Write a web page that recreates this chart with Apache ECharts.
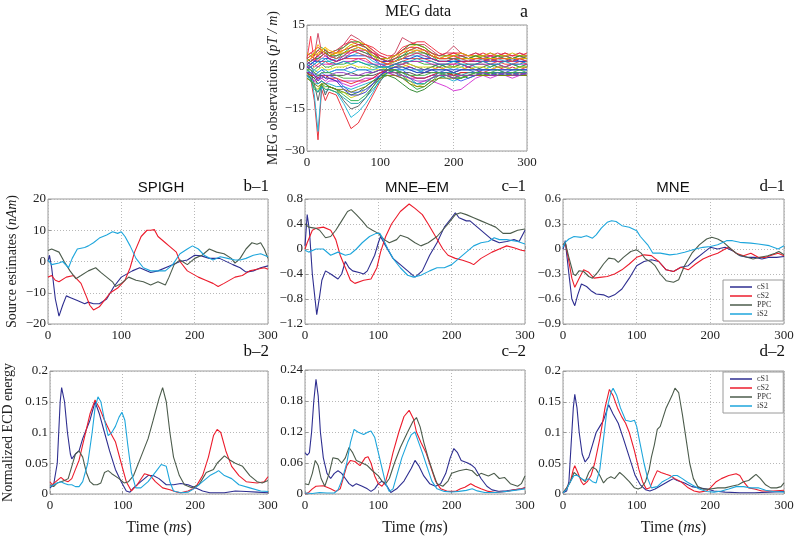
<!DOCTYPE html>
<html><head><meta charset="utf-8">
<script src="https://cdn.jsdelivr.net/npm/echarts@6/dist/echarts.min.js"></script>
<style>html,body{margin:0;padding:0;background:#fff}#c{width:800px;height:542px}</style>
</head><body><div id="c"></div>
<script>
// ---------------- DATA ----------------
const SOURCES = ['cS1', 'cS2', 'PPC', 'iS2'];
const TIME_TICKS = [0, 100, 200, 300];

// MEG sensor traces (pT/m), sampled at MEG_T
const MEG_T = [0,5,10,15,20,25,30,40,50,60,70,80,90,100,110,120,130,140,150,160,170,180,190,200,210,220,230,240,250,260,270,280,290,300];
const meg01 = [-2,-4,-12,-26,-8,-12,-9,-10,-16,-22,-20,-15,-10,-5,-1,0,1,0,-1,-2,-1,0,-1,-2,-1,0,-1,-2,-1,0,-1,0,-1,0];
const meg02 = [-1,-3,-10,-23,-7,-9,-8,-9,-13,-18,-16,-13,-9,-4,-1,1,0,-1,-2,-1,0,1,0,-1,0,1,0,-1,0,1,0,-1,0,1];
const meg03 = [-1,-2,-6,-12,-6,-10,-7,-8,-12,-15,-14,-11,-7,-3,0,1,2,1,0,-1,0,1,0,0,1,0,-1,0,1,0,0,1,0,0];
const meg04 = [-3,-4,-5,-6,-5,-6,-5,-5,-6,-7,-6,-5,-4,-3,-2,-3,-4,-5,-6,-5,-5,-6,-7,-8.5,-8,-6,-4,-3,-4,-3,-3,-4,-3,-3];
const meg05 = [-2,-3,-4,-6,-5,-6,-7,-8,-9,-10,-9,-7,-5,-3,-3,-4,-6,-8,-9,-8,-6,-4,-3,-2,-3,-4,-3,-3,-2,-3,-2,-3,-2,-3];
const meg06 = [3,11,2,5,6,5,4,5,7,10,9,8,6,3,2,4,7,8,8,7,5,3,4,5,4,3,4,3,4,3,4,3,4,3];
const meg07 = [2,3,4,12,5,6,5,5,8,11.5,10,8,6,4,3,5,10.5,9,8,8,6,4,5,7.5,5,4,5,4,5,4,5,4,5,4];
const meg08 = [2,3,4,5,6,7,5,4,6,8,9,8,5,3,2,3,5,7,8,7,5,3,3,4,3,3,3,4,3,3,4,3,3,4];
const meg09 = [1,2,3,4,5,6,4,3,5,7,8,7,4,2,1,2,4,6,7,6,4,2,2,3,2,2,3,3,2,3,3,2,3,3];
const meg10 = [0,1,2,3,4,5,3,2,4,6,7,6,3,1,1,2,3,5,6,5,3,2,2,2,2,2,2,2,2,2,2,2,2,2];
const meg11 = [2,3,2,4,3,4,3,4,5,5,6,5,3,2,2,3,4,5,6,5,4,3,3,3,4,3,2,3,4,3,4,3,3,4];
const meg12 = [1,2,1,2,3,3,2,3,4,4,5,4,2,1,1,2,3,4,4,4,3,2,2,2,3,2,2,3,2,3,2,2,3,2];
const meg13 = [0,1,0,1,2,2,1,2,3,3,3,3,1,0,1,1,2,3,3,3,2,1,1,1,2,1,1,2,1,2,1,1,2,1];
const meg14 = [-1,0,-1,0,1,0,0,1,1,2,2,1,0,0,0,1,1,2,2,1,1,0,1,0,1,0,1,1,0,1,0,1,0,1];
const meg15 = [-1,-1,-2,-1,0,-1,-1,0,0,1,0,0,-1,-1,0,0,0,1,0,0,0,-1,0,0,0,-1,0,0,-1,0,0,-1,0,0];
const meg16 = [-2,-2,-3,-2,-1,-2,-2,-1,-1,0,-1,-1,-2,-1,-1,-1,-1,0,-1,-1,-1,-2,-1,-1,-1,-1,-2,-1,-1,-1,-2,-1,-1,-1];
const meg17 = [-2,-3,-4,-3,-3,-4,-3,-3,-3,-2,-3,-3,-3,-2,-1,-2,-2,-2,-3,-2,-2,-2,-2,-3,-2,-2,-2,-2,-2,-2,-2,-2,-2,-2];
const meg18 = [-3,-4,-5,-4,-4,-5,-4,-5,-5,-5,-5,-4,-4,-2,-2,-3,-3,-4,-4,-4,-3,-3,-3,-3,-3,-3,-2,-3,-3,-2,-3,-3,-2,-3];
const meg19 = [-3,-4,-6,-6,-5,-6,-6,-7,-7,-8,-7,-6,-5,-3,-2,-2,-4,-5,-6,-6,-4,-3,-4,-5,-4,-3,-3,-2,-3,-3,-2,-3,-3,-2];
const meg20 = [-4,-5,-7,-8,-6,-8,-8,-9,-9,-11,-10,-8,-6,-3,-2,-2,-3,-5,-7,-6,-4,-3,-3,-4,-3,-3,-3,-3,-3,-3,-3,-3,-3,-3];
const meg21 = [-2,-4,-8,-9,-6,-7,-7,-8,-10,-12,-12,-10,-7,-4,-2,-1,-3,-6,-8,-7,-5,-3,-2,-3,-4,-3,-2,-3,-2,-3,-3,-2,-3,-3];
const meg22 = [1,0,-2,-4,-2,-3,-3,-4,-7,-9,-9,-8,-6,-3,-1,0,-1,-3,-4,-4,-3,-2,-3,-4,-5,-4,-3,-2,-3,-2,-3,-2,-3,-2];
const meg23 = [4,5,6,7,6,5,4,5,6,7,8,8,7,5,4,4,6,8,9,9,7,5,4,5,5,4,4,5,4,4,5,4,4,5];
const meg24 = [3,4,5,6,7,6,5,6,7,9,9,7,5,3,3,4,6,8,8,7,5,4,4,4,4,3,4,4,3,4,4,3,4,4];
const meg25 = [4,5,4,6,5,6,5,6,8,9,8,7,5,4,3,4,6,7,7,6,5,4,5,5,4,4,5,4,4,5,4,4,5,4];
const meg26 = [5,4,5,4,6,5,4,5,6,8,7,6,4,3,3,4,5,6,6,5,4,3,4,4,5,4,4,4,5,4,4,5,4,4];
const meg27 = [3,2,3,3,4,5,4,4,5,6,6,5,4,3,2,3,4,5,5,5,4,3,3,3,3,3,4,3,3,4,3,3,4,3];
const meg28 = [2,1,2,2,2,3,3,2,3,4,4,4,3,2,2,2,3,3,4,3,3,2,2,2,2,2,2,2,3,2,2,3,2,2];
const meg29 = [0,0,1,0,1,1,1,1,2,2,3,2,1,1,0,1,1,2,2,2,1,1,1,1,1,0,1,1,1,1,0,1,1,1];
const meg30 = [-1,-2,-1,-2,-1,-1,-2,-1,-1,-2,-1,-1,-1,0,0,-1,-1,-1,-1,-2,-1,-1,-1,-2,-1,-1,-1,-1,-1,-1,-1,-1,-1,-1];
const meg31 = [-2,-3,-3,-4,-3,-3,-4,-4,-5,-6,-5,-5,-4,-2,-1,-1,-2,-3,-4,-4,-3,-2,-2,-3,-2,-2,-2,-2,-2,-2,-2,-2,-2,-2];
const meg32 = [-4,-5,-6,-7,-6,-6,-7,-8,-8,-9,-8,-7,-5,-4,-3,-3,-4,-6,-7,-7,-5,-4,-4,-4,-4,-3,-3,-3,-3,-3,-3,-3,-3,-3];
const meg33 = [-3,-5,-7,-9,-7,-8,-8,-9,-11,-13,-13,-11,-8,-5,-2,-1,-2,-4,-6,-6,-4,-2,-2,-2,-3,-2,-2,-2,-2,-2,-2,-2,-2,-2];
const meg34 = [0,-1,-3,-5,-3,-4,-4,-5,-8,-10,-10,-9,-6,-3,-1,0,0,-1,-2,-2,-1,-1,-1,-2,-1,-1,-1,-1,-1,-1,-1,-1,-1,-1];
const meg35 = [1,2,3,4,5,4,3,2,3,5,6,6,5,3,2,2,3,4,5,4,3,2,2,3,2,2,2,2,3,2,2,2,3,2];
const meg36 = [-1,-1,-2,-3,-2,-2,-2,-3,-4,-4,-4,-3,-2,-1,-1,-1,-2,-3,-3,-3,-2,-2,-3,-4,-4,-3,-2,-2,-2,-1,-2,-2,-1,-2];
const meg37 = [2,3,5,8,6,7,6,5,5,6,7,6,4,2,1,2,3,5,6,6,4,3,3,4,3,3,3,3,3,3,3,3,3,3];
const meg38 = [-2,-2,-3,-5,-4,-3,-3,-2,-2,-3,-3,-2,-2,-1,-2,-2,-3,-4,-5,-5,-4,-3,-3,-4,-3,-3,-3,-2,-3,-3,-2,-3,-3,-2];
const meg39 = [1,0,1,2,1,2,2,1,2,1,2,1,1,0,0,1,2,2,3,2,2,1,1,2,1,1,1,2,1,1,2,1,1,2];
const meg40 = [3,4,3,2,4,5,4,3,4,6,5,4,3,2,1,3,5,6,7,6,4,3,3,4,3,2,3,3,2,3,3,2,3,2];

// b-1 SPIGH source estimates (nAm): [time, value]
const b1_cS1 = [[0,0],[2,2],[5,-2],[10,-12],[15,-17.5],[20,-14],[25,-11],[30,-11.5],[40,-12.5],[50,-13.5],[55,-13],[62,-13.5],[70,-13.5],[80,-12],[90,-8],[100,-5],[115,-3],[125,-2],[140,-3.5],[150,-3],[165,-1.5],[180,0],[190,0.5],[200,2],[209,1.8],[220,1],[234,1],[252,-1],[262,-2],[270,-3.4],[280,-3],[290,-2],[300,-1.4]];
const b1_cS2 = [[0,-5],[5,-4.5],[10,-6],[15,-6.5],[25,-5],[35,-4.5],[45,-7],[52,-11],[57,-14],[62,-15.5],[70,-14.5],[75,-13],[85,-10],[95,-8.5],[105,-6],[112,-2],[118,3],[127,8],[135,10],[140,10],[145,10.2],[150,8],[160,6],[165,5],[175,3],[180,0],[190,-3],[205,-5],[215,-6],[225,-7],[232,-8],[240,-7],[255,-5],[265,-4.5],[275,-3],[285,-2.5],[295,-2],[300,-2.5]];
const b1_PPC = [[0,3.5],[5,4],[15,3],[22,0],[30,-3],[38,-5.5],[45,-4.5],[55,-3],[65,-2],[72,-3.5],[80,-5],[88,-6.5],[92,-8],[100,-7],[110,-5],[120,-6],[130,-6.5],[140,-7.5],[150,-6.5],[160,-7.5],[165,-5],[172,-1],[180,0.5],[190,-1],[200,1],[210,2],[220,4],[230,3],[240,2.5],[250,1],[255,-0.5],[262,1],[270,4],[278,6],[285,5.5],[290,6],[295,4],[300,1]];
const b1_iS2 = [[0,0.5],[5,-1],[15,-0.5],[20,0],[28,-2],[33,1],[40,4],[50,4.5],[55,5],[62,6],[70,7.5],[80,8.5],[88,9.5],[95,9],[100,9.5],[105,8],[112,5],[120,1],[130,-2],[140,-3],[150,-3],[160,-3],[170,-1],[180,2.5],[190,4],[197,5],[205,4],[213,2],[225,0.5],[235,1.5],[245,1],[255,0.5],[262,0.5],[270,1],[280,2],[290,2.5],[300,1.5]];

// c-1 MNE-EM
const c1_cS1 = [[0,0.05],[3,0.55],[6,0.3],[10,-0.4],[16,-1.05],[20,-0.75],[23,-0.5],[28,-0.35],[35,-0.4],[45,-0.48],[50,-0.4],[55,-0.2],[60,-0.3],[65,-0.35],[75,-0.38],[80,-0.4],[85,-0.35],[95,-0.1],[100,0.1],[103,0.2],[110,0.05],[120,-0.15],[130,-0.25],[140,-0.35],[150,-0.45],[160,-0.35],[170,-0.1],[180,0.1],[190,0.35],[200,0.5],[205,0.58],[210,0.5],[220,0.45],[225,0.45],[235,0.35],[245,0.25],[255,0.15],[265,0.1],[275,0.12],[285,0.15],[292,0.12],[300,0.3]];
const c1_cS2 = [[0,0],[3,0.1],[10,0.3],[15,0.33],[25,0.35],[35,0.3],[42,0.15],[48,-0.1],[55,-0.3],[62,-0.5],[68,-0.55],[80,-0.5],[90,-0.48],[98,-0.3],[103,-0.05],[110,0.2],[118,0.4],[130,0.6],[142,0.72],[150,0.65],[160,0.55],[168,0.4],[178,0.2],[188,0],[195,-0.1],[205,-0.15],[215,-0.18],[225,-0.22],[230,-0.25],[240,-0.15],[255,-0.05],[265,0],[275,0.05],[285,0.02],[295,-0.02],[300,-0.03]];
const c1_PPC = [[0,0.4],[5,0.35],[15,0.33],[20,0.3],[28,0.18],[35,0.2],[42,0.3],[50,0.45],[58,0.6],[63,0.63],[70,0.55],[78,0.45],[85,0.35],[92,0.3],[100,0.25],[108,0.15],[115,0.1],[125,0.15],[130,0.22],[140,0.18],[150,0.1],[158,0.05],[168,0.1],[180,0.2],[195,0.4],[205,0.55],[212,0.58],[220,0.55],[230,0.5],[240,0.45],[250,0.4],[260,0.35],[270,0.25],[280,0.25],[290,0.3],[300,0.32]];
const c1_iS2 = [[0,-0.02],[5,-0.05],[15,0],[25,0],[35,-0.1],[45,-0.05],[55,-0.1],[62,-0.08],[70,0],[78,0.1],[88,0.2],[97,0.25],[102,0.25],[107,0.15],[113,0],[120,-0.15],[130,-0.3],[140,-0.42],[148,-0.45],[158,-0.42],[170,-0.35],[180,-0.3],[190,-0.3],[200,-0.25],[210,-0.15],[220,-0.05],[230,0.05],[240,0.1],[250,0.12],[258,0.18],[265,0.15],[275,0.15],[290,0.12],[300,0.08]];

// d-1 MNE
const d1_cS1 = [[0,0],[2,0.05],[3,0.1],[8,-0.3],[12,-0.6],[16,-0.68],[20,-0.55],[25,-0.42],[32,-0.45],[38,-0.5],[45,-0.54],[55,-0.55],[62,-0.58],[70,-0.55],[80,-0.48],[90,-0.35],[100,-0.2],[110,-0.15],[120,-0.13],[130,-0.15],[140,-0.25],[150,-0.27],[160,-0.22],[170,-0.2],[180,-0.12],[190,-0.05],[200,0.02],[210,0],[220,0.02],[230,-0.02],[240,-0.08],[250,-0.1],[260,-0.1],[270,-0.12],[280,-0.1],[290,-0.1],[300,-0.09]];
const d1_cS2 = [[0,0.05],[3,0.08],[7,-0.1],[12,-0.35],[16,-0.46],[22,-0.35],[28,-0.25],[35,-0.28],[42,-0.35],[50,-0.34],[60,-0.33],[70,-0.3],[80,-0.25],[90,-0.18],[100,-0.1],[110,-0.07],[120,-0.08],[130,-0.15],[140,-0.25],[150,-0.27],[160,-0.22],[170,-0.25],[180,-0.18],[190,-0.12],[200,-0.08],[210,-0.05],[220,0],[225,0.02],[235,-0.05],[245,-0.08],[255,-0.05],[265,-0.1],[275,-0.1],[285,-0.07],[292,-0.05],[300,-0.08]];
const d1_PPC = [[0,0.05],[3,0.08],[8,-0.1],[14,-0.3],[17,-0.32],[22,-0.26],[28,-0.27],[35,-0.33],[40,-0.35],[47,-0.28],[55,-0.18],[62,-0.11],[70,-0.12],[75,-0.16],[82,-0.1],[92,-0.03],[100,-0.01],[106,-0.05],[112,-0.12],[120,-0.16],[125,-0.2],[132,-0.3],[140,-0.38],[150,-0.4],[157,-0.37],[165,-0.2],[175,-0.05],[185,0.05],[195,0.12],[202,0.14],[210,0.12],[218,0.08],[228,0],[238,-0.07],[250,-0.1],[258,-0.12],[268,-0.1],[278,-0.08],[288,-0.05],[293,-0.03],[300,-0.07]];
const d1_iS2 = [[0,0.02],[3,0.08],[8,0.12],[15,0.15],[25,0.14],[32,0.16],[40,0.13],[45,0.17],[52,0.25],[60,0.32],[66,0.34],[72,0.33],[80,0.28],[90,0.26],[100,0.22],[105,0.15],[115,0.05],[122,-0.05],[132,-0.05],[145,-0.07],[155,-0.06],[165,-0.04],[180,0],[190,0.02],[200,0.03],[210,0.05],[222,0.1],[230,0.1],[240,0.08],[255,0.07],[265,0.06],[280,0.04],[292,0],[300,0.04]];

// b-2 SPIGH normalized ECD energy
const b2_cS1 = [[0,0.01],[5,0.015],[10,0.05],[14,0.15],[16,0.173],[20,0.15],[24,0.1],[28,0.065],[30,0.057],[35,0.065],[40,0.07],[45,0.09],[50,0.105],[55,0.12],[62,0.15],[68,0.13],[75,0.1],[82,0.07],[90,0.04],[98,0.02],[105,0.005],[110,0.003],[115,0.01],[125,0.02],[135,0.03],[142,0.03],[150,0.025],[160,0.015],[170,0.015],[180,0.017],[190,0.015],[200,0.01],[210,0.005],[220,0.002],[240,0.002],[255,0.005],[270,0.004],[285,0.003],[300,0.002]];
const b2_cS2 = [[0,0.02],[3,0.015],[8,0.02],[15,0.027],[20,0.022],[25,0.02],[30,0.025],[35,0.04],[40,0.055],[47,0.09],[55,0.13],[62,0.153],[68,0.14],[75,0.12],[83,0.1],[90,0.085],[98,0.05],[105,0.02],[112,0.005],[120,0.015],[130,0.033],[138,0.03],[145,0.02],[155,0.01],[165,0.007],[175,0.003],[180,0.002],[190,0.005],[200,0.01],[210,0.03],[218,0.06],[225,0.095],[230,0.105],[235,0.1],[242,0.07],[250,0.045],[260,0.03],[270,0.02],[285,0.018],[295,0.02],[300,0.028]];
const b2_PPC = [[0,0.015],[5,0.012],[10,0.018],[15,0.02],[20,0.022],[25,0.025],[30,0.045],[35,0.065],[40,0.07],[45,0.06],[50,0.035],[55,0.02],[60,0.015],[65,0.015],[70,0.018],[75,0.035],[80,0.038],[85,0.033],[95,0.025],[102,0.018],[108,0.02],[115,0.03],[125,0.06],[135,0.09],[142,0.12],[150,0.155],[155,0.173],[160,0.15],[165,0.1],[170,0.06],[178,0.03],[185,0.015],[195,0.01],[205,0.015],[210,0.025],[215,0.035],[225,0.04],[230,0.05],[240,0.062],[248,0.055],[255,0.05],[265,0.045],[275,0.03],[285,0.02],[292,0.018],[300,0.022]];
const b2_iS2 = [[0,0.012],[5,0.015],[10,0.018],[15,0.02],[20,0.017],[25,0.015],[30,0.015],[35,0.012],[40,0.012],[45,0.02],[52,0.05],[58,0.1],[62,0.14],[66,0.158],[70,0.15],[75,0.12],[80,0.095],[85,0.1],[90,0.11],[95,0.125],[99,0.133],[103,0.12],[107,0.08],[112,0.035],[118,0.01],[125,0.01],[135,0.02],[148,0.04],[153,0.048],[160,0.045],[165,0.02],[170,0.005],[180,0.002],[190,0.003],[200,0.01],[210,0.02],[220,0.03],[228,0.035],[232,0.038],[240,0.03],[250,0.025],[260,0.015],[275,0.01],[290,0.005],[300,0.004]];

// c-2 MNE-EM normalized ECD energy
const c2_cS1 = [[0,0.08],[3,0.075],[6,0.08],[9,0.12],[12,0.18],[15,0.222],[18,0.19],[21,0.12],[25,0.07],[30,0.04],[35,0.03],[40,0.04],[45,0.045],[50,0.04],[55,0.03],[60,0.02],[65,0.015],[70,0.02],[78,0.015],[85,0.01],[90,0.005],[95,0.01],[100,0.02],[105,0.025],[112,0.015],[117,0.003],[125,0.01],[135,0.025],[145,0.05],[150,0.065],[155,0.055],[162,0.035],[170,0.02],[178,0.015],[185,0.02],[192,0.04],[198,0.07],[203,0.088],[208,0.08],[213,0.065],[222,0.06],[228,0.055],[232,0.05],[240,0.03],[248,0.015],[255,0.008],[265,0.005],[275,0.006],[285,0.008],[295,0.01],[300,0.012]];
const c2_cS2 = [[0,0],[5,0.003],[10,0.01],[15,0.015],[25,0.016],[35,0.01],[42,0.005],[48,0.01],[52,0.03],[57,0.055],[62,0.065],[68,0.063],[75,0.055],[82,0.07],[86,0.072],[90,0.06],[95,0.035],[100,0.02],[105,0.015],[110,0.025],[115,0.05],[120,0.08],[128,0.12],[135,0.15],[142,0.162],[148,0.145],[152,0.12],[158,0.1],[165,0.08],[172,0.05],[178,0.025],[185,0.01],[195,0.005],[205,0.005],[212,0.01],[218,0.013],[226,0.02],[232,0.015],[240,0.01],[250,0.005],[260,0.003],[275,0.005],[285,0.008],[295,0.01],[300,0.012]];
const c2_PPC = [[0,0.02],[5,0.018],[10,0.04],[14,0.065],[18,0.055],[22,0.03],[27,0.015],[33,0.04],[38,0.07],[45,0.068],[50,0.06],[55,0.07],[60,0.09],[65,0.08],[70,0.065],[78,0.06],[85,0.055],[92,0.045],[100,0.035],[105,0.025],[110,0.02],[115,0.03],[122,0.06],[130,0.09],[140,0.12],[147,0.14],[152,0.148],[157,0.13],[162,0.1],[168,0.07],[175,0.04],[180,0.02],[188,0.015],[195,0.025],[200,0.04],[210,0.045],[220,0.048],[228,0.045],[235,0.035],[240,0.04],[250,0.035],[258,0.04],[265,0.03],[272,0.032],[280,0.02],[290,0.015],[295,0.02],[300,0.035]];
const c2_iS2 = [[0,0.002],[10,0.001],[20,0.003],[30,0.002],[40,0.002],[45,0.008],[50,0.025],[57,0.06],[62,0.1],[67,0.125],[72,0.12],[80,0.115],[86,0.12],[90,0.122],[95,0.11],[100,0.08],[105,0.05],[110,0.02],[115,0.005],[120,0.01],[126,0.04],[132,0.07],[140,0.1],[145,0.115],[150,0.12],[155,0.1],[160,0.08],[167,0.05],[173,0.025],[180,0.01],[190,0.005],[200,0.004],[210,0.005],[220,0.007],[228,0.01],[235,0.006],[245,0.003],[260,0.003],[275,0.005],[290,0.008],[300,0.01]];

// d-2 MNE normalized ECD energy
const d2_cS1 = [[0,0.002],[5,0.005],[8,0.02],[11,0.08],[14,0.14],[16,0.162],[19,0.14],[22,0.1],[26,0.065],[30,0.052],[35,0.06],[40,0.08],[45,0.1],[50,0.11],[55,0.12],[62,0.145],[68,0.13],[75,0.115],[82,0.09],[90,0.06],[98,0.03],[105,0.015],[112,0.007],[118,0.005],[125,0.008],[135,0.015],[145,0.022],[150,0.025],[155,0.022],[165,0.018],[175,0.012],[185,0.01],[195,0.008],[205,0.005],[220,0.003],[240,0.002],[260,0.002],[280,0.003],[300,0.004]];
const d2_cS2 = [[0,0.002],[5,0.01],[10,0.02],[14,0.04],[16,0.046],[20,0.035],[25,0.02],[28,0.015],[33,0.02],[38,0.03],[43,0.05],[50,0.09],[57,0.14],[63,0.17],[68,0.16],[74,0.14],[80,0.125],[85,0.115],[90,0.1],[97,0.07],[103,0.04],[108,0.02],[113,0.008],[118,0.01],[123,0.025],[128,0.038],[133,0.035],[140,0.032],[145,0.03],[152,0.025],[160,0.02],[170,0.01],[178,0.005],[185,0.003],[195,0.005],[200,0.01],[208,0.02],[215,0.025],[225,0.03],[235,0.033],[240,0.03],[245,0.02],[252,0.01],[260,0.008],[270,0.005],[285,0.005],[300,0.006]];
const d2_PPC = [[0,0.002],[5,0.01],[10,0.02],[15,0.035],[20,0.03],[25,0.025],[30,0.02],[35,0.035],[40,0.044],[45,0.04],[50,0.03],[55,0.018],[60,0.025],[65,0.028],[70,0.025],[77,0.035],[82,0.03],[90,0.02],[97,0.01],[102,0.008],[106,0.01],[112,0.02],[117,0.04],[120,0.06],[124,0.08],[128,0.105],[132,0.11],[136,0.125],[140,0.14],[148,0.16],[152,0.172],[157,0.165],[162,0.13],[167,0.09],[172,0.05],[177,0.025],[183,0.012],[190,0.008],[200,0.008],[210,0.01],[220,0.01],[230,0.013],[238,0.015],[245,0.02],[252,0.022],[258,0.028],[262,0.032],[268,0.025],[275,0.015],[282,0.01],[290,0.01],[296,0.012],[300,0.018]];
const d2_iS2 = [[0,0.002],[5,0.008],[10,0.02],[15,0.03],[20,0.03],[25,0.025],[30,0.022],[35,0.025],[40,0.02],[45,0.018],[50,0.04],[55,0.09],[60,0.14],[65,0.165],[68,0.172],[73,0.16],[78,0.14],[85,0.12],[92,0.118],[97,0.12],[100,0.11],[105,0.08],[110,0.05],[115,0.025],[120,0.01],[128,0.012],[135,0.02],[143,0.025],[150,0.03],[155,0.03],[162,0.025],[168,0.02],[175,0.015],[185,0.008],[195,0.004],[205,0.003],[215,0.005],[225,0.008],[235,0.012],[245,0.012],[255,0.01],[265,0.01],[275,0.006],[285,0.004],[300,0.003]];

// ---------------- LAYOUT / STYLE ----------------
const MEG_TRACES = [meg01,meg02,meg03,meg04,meg05,meg06,meg07,meg08,meg09,meg10,meg11,meg12,meg13,meg14,meg15,meg16,meg17,meg18,meg19,meg20,
  meg21,meg22,meg23,meg24,meg25,meg26,meg27,meg28,meg29,meg30,meg31,meg32,meg33,meg34,meg35,meg36,meg37,meg38,meg39,meg40];
const MEG_COLORS = ['#e8202a','#18b4d8','#555555','#d22ad2','#208020','#ff2a40','#c83c5a','#e8d400','#20b020','#2233dd',
  '#cc33cc','#22bbdd','#ee3333','#33aa33','#dddd00','#3344cc','#444444','#bb22bb','#11aacc','#cccc11',
  '#22aa44','#3355ee','#f02030','#30a030','#e02a50','#d0c000','#2a9a2a','#1040d0','#c020c0','#20b0e0',
  '#ee2020','#808000','#10a0a0','#3030c0','#dc1c6c','#40b040','#ffaa00','#9030c0','#00a0c0','#f04040'];
const SRC_COLORS = {cS1:'#2e2e90', cS2:'#ec1c2c', PPC:'#4c5c4c', iS2:'#1ea6dc'};
const SERIF = 'Liberation Serif';

function fmt(v){ const s = String(+(+v).toFixed(3)); return s.replace('-', '\u2212'); }

const panels = [
  {key:'a',  grid:{left:307,top:25,width:220,height:126}, y:[-30,15,15]},
  {key:'b1', grid:{left:48,top:199,width:220,height:125}, y:[-20,20,10], data:[b1_cS1,b1_cS2,b1_PPC,b1_iS2]},
  {key:'c1', grid:{left:305,top:199,width:220,height:125}, y:[-1.2,0.8,0.4], data:[c1_cS1,c1_cS2,c1_PPC,c1_iS2]},
  {key:'d1', grid:{left:563,top:199,width:221,height:125}, y:[-0.9,0.6,0.3], data:[d1_cS1,d1_cS2,d1_PPC,d1_iS2]},
  {key:'b2', grid:{left:48,top:371,width:220,height:123}, y:[0,0.2,0.05], data:[b2_cS1,b2_cS2,b2_PPC,b2_iS2], bottom:true},
  {key:'c2', grid:{left:305,top:370,width:220,height:124}, y:[0,0.24,0.06], data:[c2_cS1,c2_cS2,c2_PPC,c2_iS2], bottom:true},
  {key:'d2', grid:{left:563,top:371,width:221,height:123}, y:[0,0.2,0.05], data:[d2_cS1,d2_cS2,d2_PPC,d2_iS2], bottom:true}
];

const grids=[], xAxis=[], yAxis=[], series=[];
const labelStyle = {fontFamily:SERIF, fontSize:13, color:'#222'};
const splitStyle = {show:true, lineStyle:{color:'#b8b8b8', type:[1,2], width:1}};
panels.forEach((p,i)=>{
  grids.push(Object.assign({show:true, borderColor:'#9a9a9a', borderWidth:1, backgroundColor:'#fff'}, p.grid));
  const xa = {type:'value', gridIndex:i, min:0, max:300, interval:100,
    axisLine:{show:false}, axisTick:{show:true, inside:true, length:3, lineStyle:{color:'#9a9a9a'}},
    axisLabel:Object.assign({margin:5, formatter:fmt}, labelStyle), splitLine:splitStyle};
  if (p.bottom) {
    xa.name = 'Time ({i|ms})'; xa.nameLocation='middle'; xa.nameGap=26;
    xa.nameTextStyle = {fontFamily:SERIF, fontSize:16, color:'#222', rich:{i:{fontFamily:SERIF, fontStyle:'italic', fontSize:16, color:'#222'}}};
  }
  xAxis.push(xa);
  const ya = {type:'value', gridIndex:i, min:p.y[0], max:p.y[1], interval:p.y[2],
    axisLine:{show:false}, axisTick:{show:true, inside:true, length:3, lineStyle:{color:'#9a9a9a'}},
    axisLabel:Object.assign({margin:2, formatter:fmt}, labelStyle), splitLine:splitStyle};
  const nts = {fontFamily:SERIF, fontSize:14, color:'#222', rich:{i:{fontFamily:SERIF, fontStyle:'italic', fontSize:14, color:'#222'}}};
  if (p.key==='a') { ya.name='MEG observations ({i|pT / m})'; ya.nameLocation='middle'; ya.nameGap=24; ya.nameTextStyle=nts; }
  if (p.key==='b1') { ya.name='Source estimates ({i|nAm})'; ya.nameLocation='middle'; ya.nameGap=29; ya.nameTextStyle=nts; }
  if (p.key==='b2') { ya.name='Normalized ECD energy'; ya.nameLocation='middle'; ya.nameGap=35; ya.nameTextStyle=nts; }
  yAxis.push(ya);
  if (p.key==='a') {
    MEG_TRACES.forEach((tr,k)=>{
      series.push({type:'line', xAxisIndex:i, yAxisIndex:i, showSymbol:false, silent:true,
        data: tr.map((v,j)=>[MEG_T[j], v]), color:MEG_COLORS[k % MEG_COLORS.length],
        lineStyle:{width:0.9}, animation:false});
    });
  } else {
    SOURCES.forEach((name,k)=>{
      series.push({type:'line', name, xAxisIndex:i, yAxisIndex:i, showSymbol:false, silent:true,
        data:p.data[k], color:SRC_COLORS[name], lineStyle:{width:1.1}, animation:false});
    });
  }
});

function legendAt(top){
  return {data:SOURCES, orient:'vertical', left:723, top:top, selectedMode:false,
    backgroundColor:'#fff', borderColor:'#9a9a9a', borderWidth:1, padding:[3,12,3,7], itemGap:1,
    icon:'rect', itemWidth:22, itemHeight:1.5,
    textStyle:{fontFamily:SERIF, fontSize:8, color:'#333'}};
}

function txt(text, x, y, font, align){
  return {type:'text', x, y, style:{text, font, fill:'#111', textAlign:align||'center', textVerticalAlign:'middle'}};
}
const graphic = [
  txt('MEG data', 418, 12, '16px "Liberation Serif"'),
  txt('a', 528, 12, '18px "Liberation Serif"', 'right'),
  txt('SPIGH', 161, 188, '15px "Liberation Sans"'),
  txt('MNE\u2013EM', 417, 188, '15px "Liberation Sans"'),
  txt('MNE', 673, 188, '15px "Liberation Sans"'),
  txt('b\u20131', 269, 187, '17px "Liberation Serif"', 'right'),
  txt('c\u20131', 526, 187, '17px "Liberation Serif"', 'right'),
  txt('d\u20131', 785, 187, '17px "Liberation Serif"', 'right'),
  txt('b\u20132', 269, 352, '17px "Liberation Serif"', 'right'),
  txt('c\u20132', 526, 352, '17px "Liberation Serif"', 'right'),
  txt('d\u20132', 785, 352, '17px "Liberation Serif"', 'right')
];

const chart = echarts.init(document.getElementById('c'), null, {renderer:'canvas'});
chart.setOption({
  backgroundColor:'#fff', animation:false,
  grid:grids, xAxis, yAxis, series,
  legend:[legendAt(280), legendAt(372)],
  graphic
});
</script></body></html>
